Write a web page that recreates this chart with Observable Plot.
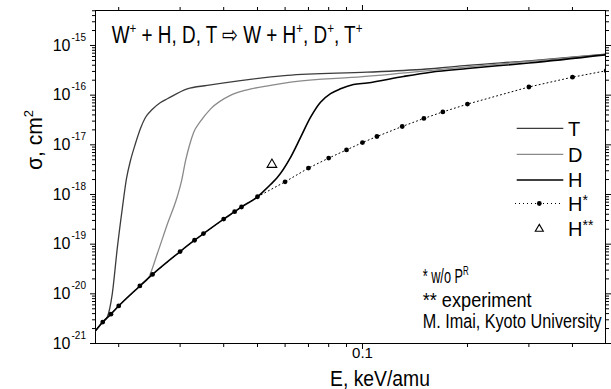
<!DOCTYPE html>
<html><head><meta charset="utf-8">
<script src="https://cdn.jsdelivr.net/npm/d3@7"></script>
<script src="https://cdn.jsdelivr.net/npm/@observablehq/plot@0.6"></script>
<style>
html,body{margin:0;padding:0;background:#fff;}
#chart{width:611px;height:389px;}
</style></head><body><div id="chart"></div>
<script>
// ---- data (E in keV/amu, sigma in cm^2) ----
const tE = [0.01716, 0.0180, 0.01854, 0.01917, 0.01981, 0.02048, 0.02106, 0.02162, 0.02234, 0.02309, 0.02386, 0.02494, 0.02636, 0.02757, 0.03145, 0.03587, 0.04468, 0.06082, 0.1031, 0.157, 0.2, 0.3, 0.4975];
const tS = [1.8e-21, 2.7e-21, 3.39e-21, 1.0e-20, 8.2e-20, 5.2e-19, 2.1e-18, 4.84e-18, 1.06e-17, 2.13e-17, 3.55e-17, 5.14e-17, 7.12e-17, 8.45e-17, 1.34e-16, 1.57e-16, 1.97e-16, 2.49e-16, 2.9e-16, 3.4e-16, 3.97e-16, 4.9e-16, 6.7e-16];

const dE = [0.01716, 0.018, 0.019, 0.020, 0.023, 0.0244, 0.0258, 0.0276, 0.0294, 0.0303, 0.0311, 0.0319, 0.0328, 0.0343, 0.0367, 0.0418, 0.0467, 0.0545, 0.0622, 0.1, 0.2, 0.3, 0.4975];
const dS = [1.8e-21, 2.7e-21, 3.9e-21, 5.7e-21, 1.44e-20, 2.16e-20, 6.4e-20, 2.57e-19, 8.8e-19, 1.9e-18, 4.8e-18, 9.7e-18, 1.77e-17, 2.95e-17, 5.3e-17, 9.9e-17, 1.28e-16, 1.57e-16, 1.82e-16, 2.35e-16, 3.7e-16, 4.8e-16, 6.6e-16];

const hE = [0.01716, 0.018, 0.019, 0.020, 0.023, 0.025, 0.030, 0.033, 0.035, 0.040, 0.043, 0.045, 0.050, 0.0521, 0.0545, 0.0569, 0.0622, 0.0665, 0.071, 0.0758, 0.081, 0.0865, 0.0942, 0.1031, 0.131, 0.157, 0.2, 0.3, 0.4975];
const hS = [1.8e-21, 2.7e-21, 3.9e-21, 5.7e-21, 1.44e-20, 2.46e-20, 7.1e-20, 1.2e-19, 1.63e-19, 3.2e-19, 4.5e-19, 5.6e-19, 9.0e-19, 1.17e-18, 1.59e-18, 2.17e-18, 5.6e-18, 1.43e-17, 3.6e-17, 7.2e-17, 1.07e-16, 1.34e-16, 1.64e-16, 1.76e-16, 2.38e-16, 2.9e-16, 3.44e-16, 4.44e-16, 6.5e-16];

const hsE = [0.018, 0.019, 0.020, 0.023, 0.025, 0.030, 0.033, 0.035, 0.040, 0.043, 0.045, 0.050, 0.060, 0.070, 0.080, 0.090, 0.10, 0.11, 0.13, 0.15, 0.17, 0.20, 0.30, 0.40, 0.50];
const hsS = [2.7e-21, 3.9e-21, 5.7e-21, 1.44e-20, 2.46e-20, 7.1e-20, 1.2e-19, 1.63e-19, 3.2e-19, 4.5e-19, 5.6e-19, 9.0e-19, 1.8e-18, 3.4e-18, 5.4e-18, 7.9e-18, 1.11e-17, 1.47e-17, 2.34e-17, 3.4e-17, 4.6e-17, 6.6e-17, 1.46e-16, 2.3e-16, 3.1e-16];

const expE = [0.055];
const expS = [4.0e-18];

const xMajor = [0.1];
const xMajorLabels = ["0.1"];
const xMinor = [0.02, 0.03, 0.04, 0.05, 0.06, 0.07, 0.08, 0.09, 0.2, 0.3, 0.4];
const yMajor = [1e-21, 1e-20, 1e-19, 1e-18, 1e-17, 1e-16, 1e-15];
const yExpLabels = ["-21", "-20", "-19", "-18", "-17", "-16", "-15"];
const yMinor = [];
for (const d of yMajor) for (const m of [2,3,4,5,6,7,8,9]) { const v = d * m; if (v < 5.06e-15) yMinor.push(v); }

const zip = (E, S, s) => E.map((e, i) => ({E: e, S: S[i], s}));
const T = zip(tE, tS, "T"), D = zip(dE, dS, "D"), H = zip(hE, hS, "H");
const HS = zip(hsE, hsS, "H*"), EXP = zip(expE, expS, "H**");

const FONT = "Arial, 'Liberation Sans', Helvetica, sans-serif";

const chart = Plot.plot({
  width: 611, height: 389,
  marginLeft: 95, marginRight: 6, marginTop: 10, marginBottom: 46,
  style: {fontFamily: FONT, background: "#fff", color: "#000", fontSize: "10px"},
  x: {type: "log", domain: [0.01716, 0.4975]},
  y: {type: "log", domain: [1e-21, 5.06e-15]},
  marks: [
    Plot.frame({stroke: "#000", strokeWidth: 1}),
    Plot.axisX({ticks: xMinor, anchor: "bottom", tickSize: 4, tickFormat: () => "", label: null}),
    Plot.axisX({ticks: xMajor, anchor: "bottom", tickSize: 6, tickFormat: () => "", label: null}),
    Plot.axisX({ticks: xMinor, anchor: "top", tickSize: 4, tickFormat: () => "", label: null}),
    Plot.axisX({ticks: xMajor, anchor: "top", tickSize: 6, tickFormat: () => "", label: null}),
    Plot.axisY({ticks: yMinor, anchor: "left", tickSize: 3, tickFormat: () => "", label: null}),
    Plot.axisY({ticks: yMajor, anchor: "left", tickSize: 5, tickFormat: () => "", label: null}),
    Plot.axisY({ticks: yMinor, anchor: "right", tickSize: 3, tickFormat: () => "", label: null}),
    Plot.axisY({ticks: yMajor, anchor: "right", tickSize: 5, tickFormat: () => "", label: null}),
    Plot.text(yMajor, {y: d => d, frameAnchor: "left", text: () => "10", textAnchor: "end", dx: -25, dy: 0, fontSize: 16}),
    Plot.text(yMajor, {y: d => d, frameAnchor: "left", text: (d, i) => yExpLabels[i], textAnchor: "start", dx: -24, dy: -8, fontSize: 10}),
    Plot.text(xMajor, {x: d => d, frameAnchor: "bottom", text: (d, i) => xMajorLabels[i], dy: 14.5, fontSize: 15}),
    Plot.line(T, {x: "E", y: "S", stroke: "#3c3c3c", strokeWidth: 1.3, curve: "monotone-x", clip: true}),
    Plot.line(D, {x: "E", y: "S", stroke: "#8a8a8a", strokeWidth: 1.3, curve: "monotone-x", clip: true}),
    Plot.line(HS, {x: "E", y: "S", stroke: "#000", strokeWidth: 1, strokeDasharray: "1,3", clip: true}),
    Plot.line(H, {x: "E", y: "S", stroke: "#000", strokeWidth: 1.6, curve: "monotone-x", clip: true}),
    Plot.dot(HS, {x: "E", y: "S", r: 2.4, fill: "#000", stroke: null, clip: true}),
    Plot.dot(EXP, {x: "E", y: "S", symbol: "triangle", r: 3.6, fill: "#fff", stroke: "#000", strokeWidth: 1.1})
  ]
});
document.getElementById("chart").appendChild(chart);

const svg = d3.select(chart);

// text with optional superscripts ("^" prefix), horizontally fitted to a width
function fitText(parts, {x, y, size, width = null, anchor = "start", rotate = 0, supScale = 0.62, supRise = 0.42}) {
  const g = svg.append("g").attr("transform", `translate(${x},${y}) rotate(${rotate})`);
  const t = g.append("text").attr("font-size", size).attr("font-family", FONT)
    .attr("fill", "#000").attr("text-anchor", "start").style("text-anchor", "start");
  let raised = false;
  for (const p of parts) {
    const sup = p.startsWith("^");
    const s = t.append("tspan").text(sup ? p.slice(1) : p);
    if (sup && !raised) { s.attr("dy", -size * supRise); raised = true; }
    else if (!sup && raised) { s.attr("dy", size * supRise); raised = false; }
    if (sup) s.attr("font-size", size * supScale);
  }
  const w = t.node().getComputedTextLength();
  const k = width ? width / w : 1;
  const W = w * k;
  const off = anchor === "middle" ? -W / 2 : anchor === "end" ? -W : 0;
  t.attr("transform", `translate(${off},0) scale(${k},1)`);
  return t;
}

// title
fitText(["W", "^+", " + H, D, T \u21E8 W + H", "^+", ", D", "^+", ", T", "^+"], {x: 111.7, y: 43, size: 24, width: 251});
// axis titles
fitText(["E, keV/amu"], {x: 380, y: 386, size: 22, width: 100, anchor: "middle"});
fitText(["\u03C3, cm", "^2"], {x: 42, y: 140, size: 22, width: 60, anchor: "middle", rotate: -90});
// notes
fitText(["* w/o P", "^R"], {x: 422.7, y: 283.3, size: 20, width: 46});
fitText(["** experiment"], {x: 422.7, y: 306.7, size: 20, width: 109});
fitText(["M. Imai, Kyoto University"], {x: 422.7, y: 328.3, size: 20, width: 179});

// legend
const legend = [
  {label: ["T"], y: 128.3, stroke: "#3c3c3c", w: 1.3},
  {label: ["D"], y: 154.3, stroke: "#8a8a8a", w: 1.3},
  {label: ["H"], y: 180, stroke: "#000", w: 1.6}
];
for (const L of legend) {
  svg.append("line").attr("x1", 516.7).attr("x2", 563.3).attr("y1", L.y).attr("y2", L.y)
    .attr("stroke", L.stroke).attr("stroke-width", L.w);
  fitText(L.label, {x: 568, y: L.y + 7.3, size: 20});
}
svg.append("line").attr("x1", 515).attr("x2", 560).attr("y1", 203.5).attr("y2", 203.5)
  .attr("stroke", "#000").attr("stroke-width", 1).attr("stroke-dasharray", "1,3");
svg.append("circle").attr("cx", 539.3).attr("cy", 203.5).attr("r", 2.4).attr("fill", "#000");
fitText(["H", "^*"], {x: 568, y: 210.8, size: 20, supScale: 0.7, supRise: 0.3});
svg.append("path").attr("d", d3.symbol(d3.symbolTriangle, 28)()).attr("transform", "translate(539.3,229)")
  .attr("fill", "#fff").attr("stroke", "#000").attr("stroke-width", 1.1);
fitText(["H", "^**"], {x: 568, y: 236.3, size: 20, supScale: 0.7, supRise: 0.3});
</script>
</body></html>
